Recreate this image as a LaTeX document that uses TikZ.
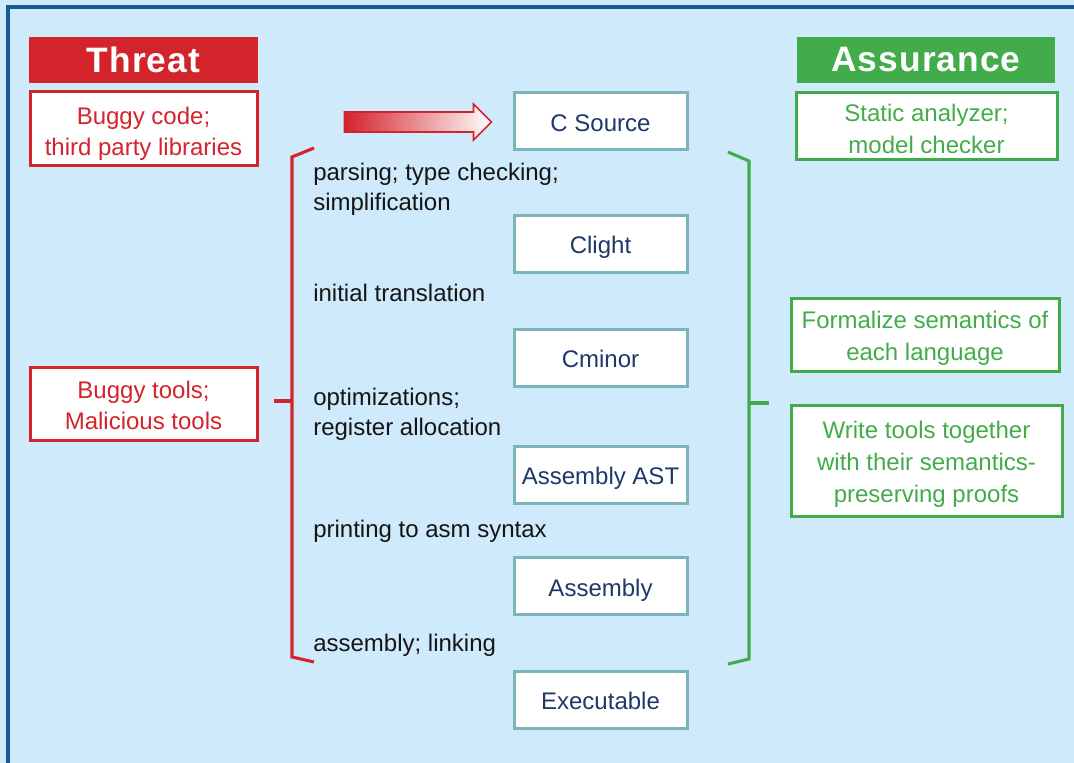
\documentclass[tikz,border=0pt]{standalone}
\usepackage{fontspec}
\setmainfont{Liberation Sans}
\newfontfamily\headfont{Liberation Sans}[LetterSpace=3]
\usetikzlibrary{calc}

\definecolor{bgblue}{HTML}{CFEAFB}
\definecolor{framblue}{HTML}{155A97}
\definecolor{threatred}{HTML}{D3232B}
\definecolor{assgreen}{HTML}{43AC4A}
\definecolor{tealedge}{HTML}{7BB4B9}
\definecolor{navytext}{HTML}{1E3868}
\definecolor{labelblack}{HTML}{151515}

\tikzset{
  header/.style={inner sep=0pt, minimum height=34.5pt,
    font=\headfont\bfseries\fontsize{26.5}{30}\selectfont, text=white},
  framed/.style={line width=2.25pt, fill=white, inner sep=0pt},
  threatbox/.style={framed, draw=threatred},
  assbox/.style={framed, draw=assgreen},
  threattext/.style={inner sep=0pt, align=center, text=threatred,
    font=\fontsize{18}{23.25}\selectfont},
  asstext/.style={inner sep=0pt, align=center, text=assgreen,
    font=\fontsize{18}{24}\selectfont},
  langbox/.style={framed, draw=tealedge,
    minimum width=129.75pt, minimum height=42.75pt, text=navytext,
    font=\fontsize{18}{22}\selectfont, text height=15pt, text depth=0pt},
  passlabel/.style={anchor=west, inner sep=0pt, align=left, text=labelblack,
    font=\fontsize{18}{22.5}\selectfont},
  bracket/.style={line width=2.3pt, line join=miter}
}

\begin{document}
\begin{tikzpicture}[x=0.75pt, y=-0.75pt]
  % canvas and frame
  \fill[bgblue] (0,0) rectangle (1074,763);
  \useasboundingbox (0,0) rectangle (1074,763);
  \draw[framblue, line width=2.4pt] (8,770) -- (8,7) -- (1080,7);

  % headers
  \node[header, fill=threatred, minimum width=171.75pt] (threat) at (143.5,60) {Threat};
  \node[header, fill=assgreen, minimum width=193.5pt] (assurance) at (926,60) {Assurance};

  % threat boxes
  \node[threatbox, minimum width=170.25pt, minimum height=55.5pt] (bugcode) at (143.5,129) {};
  \node[threattext] (bugcode-t) at ($(bugcode.center)+(0,5)$) {Buggy code;\\third party libraries};
  \node[threatbox, minimum width=170.25pt, minimum height=54.75pt] (bugtools) at (143.5,403.5) {};
  \node[threattext] (bugtools-t) at ($(bugtools.center)+(0,2)$) {Buggy tools;\\Malicious tools};

  % assurance boxes
  \node[assbox, minimum width=195.75pt, minimum height=50.25pt] (static) at (926.5,126.5) {};
  \node[asstext] (static-t) at ($(static.center)+(0,2)$) {Static analyzer;\\model checker};
  \node[assbox, minimum width=201pt, minimum height=54.75pt] (formal) at (925,334.5) {};
  \node[asstext] (formal-t) at ($(formal.center)+(0,3.5)$) {Formalize semantics of\\each language};
  \node[assbox, minimum width=203.25pt, minimum height=83.25pt] (proofs) at (926.5,460.5) {};
  \node[asstext] (proofs-t) at ($(proofs.center)+(0,3.5)$) {Write tools together\\with their semantics-\\preserving proofs};

  % compilation chain
  \node[langbox] (csrc)   at (600.5,121.5) {C Source};
  \node[langbox] (clight) at (600.5,243.5) {Clight};
  \node[langbox] (cminor) at (600.5,357.5) {Cminor};
  \node[langbox] (asmast) at (600.5,474.5) {Assembly AST};
  \node[langbox] (asm)    at (600.5,586)   {Assembly};
  \node[langbox] (exe)    at (600.5,699.5) {Executable};

  % pass labels
  \node[passlabel] (p1) at (313,189.5) {parsing; type checking;\\simplification};
  \node[passlabel] (p2) at (313,292.5) {initial translation};
  \node[passlabel] (p3) at (313,414.5) {optimizations;\\register allocation};
  \node[passlabel] (p4) at (313,531) {printing to asm syntax};
  \node[passlabel] (p5) at (313,645) {assembly; linking};

  % shaded arrow into the source
  \coordinate (tip) at ($(csrc.west)+(-21,0.5)$);
  \path[left color=threatred, right color=white, draw=threatred, line width=1.3pt, line join=miter]
    ($(tip)+(-147,-10)$) -- ($(tip)+(-18,-10)$) -- ($(tip)+(-18,-18)$) -- (tip)
    -- ($(tip)+(-18,18)$) -- ($(tip)+(-18,10)$) -- ($(tip)+(-147,10)$) -- cycle;

  % threat bracket
  \coordinate (rtick) at ($(bugtools.east)+(15,-2.5)$);
  \draw[threatred, bracket] (314,148) -- (292,157) -- (292,657) -- (314,662);
  \draw[threatred, bracket] (rtick) -- (292,401);

  % assurance bracket
  \coordinate (gtick) at ($(proofs.west)+(-21,-57.5)$);
  \draw[assgreen, bracket] (728,152) -- (749,161) -- (749,659) -- (728,664);
  \draw[assgreen, bracket] (749,403) -- (gtick);
\end{tikzpicture}
\end{document}
